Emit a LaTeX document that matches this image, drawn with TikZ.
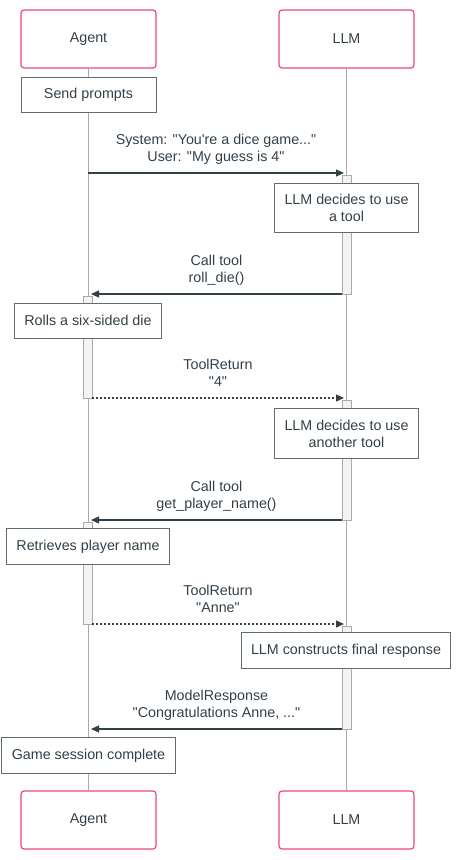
\documentclass[tikz,border=0pt]{standalone}
\usepackage{fontspec}
\newfontfamily\seqfont{Liberation Sans}
\usetikzlibrary{arrows.meta,shapes}
\definecolor{actorpink}{RGB}{236,72,128}
\definecolor{inkgray}{RGB}{51,64,72}
\definecolor{notegray}{RGB}{96,108,116}
\definecolor{lifegray}{RGB}{170,170,170}
\definecolor{actfill}{RGB}{243,243,243}

\begin{document}
\begin{tikzpicture}[
  every node/.style={font=\seqfont\fontsize{14.3bp}{17bp}\selectfont,text=inkgray},
  actor/.style={draw=actorpink,line width=1.2bp,rounded corners=3bp,fill=white,minimum width=135bp,minimum height=58bp},
  note/.style={draw=notegray,line width=1bp,fill=white,minimum width=135bp,inner xsep=10bp,inner ysep=11bp,minimum height=35bp,align=center},
  lifeline/.style={draw=lifegray,line width=1.3bp},
  actbar/.style={draw=lifegray,fill=actfill,line width=1bp,minimum width=9bp,inner sep=0bp},
  msg/.style={-{Triangle[length=8bp,width=7bp]},draw=inkgray,line width=1.2bp},
  reply/.style={msg,dash pattern=on 2bp off 2bp},
  msglabel/.style={above=6bp,align=center,inner sep=0bp}
]
\useasboundingbox (0bp,0bp) rectangle (473bp,-860bp);

\node (agentTop) at (88.5bp,-39bp)[actor] {Agent};
\node (llmTop) at (346.5bp,-39bp)[actor] {LLM};
\node (agentBot) at (88.5bp,-820bp)[actor] {Agent};
\node (llmBot) at (346.5bp,-820bp)[actor] {LLM};
\draw [lifeline] (agentTop) -- (agentBot);
\draw [lifeline] (llmTop) -- (llmBot);

\node (act1) at (346.5bp,-234.5bp)[actbar,minimum height=119bp] {};
\node (act2) at (88bp,-347bp)[actbar,minimum height=102bp] {};
\node (act3) at (346.5bp,-460bp)[actbar,minimum height=120bp] {};
\node (act4) at (88bp,-573bp)[actbar,minimum height=102bp] {};
\node (act5) at (346.5bp,-677.5bp)[actbar,minimum height=103bp] {};

\node (sendNote) at (88.5bp,-95bp)[note] {Send prompts};
\node (toolNote) at (346.5bp,-208bp)[note] {LLM decides to use\\a tool};
\node (rollNote) at (88bp,-320.5bp)[note] {Rolls a six-sided die};
\node (otherNote) at (346.5bp,-433.5bp)[note] {LLM decides to use\\another tool};
\node (nameNote) at (88bp,-546.5bp)[note] {Retrieves player name};
\node (finalNote) at (346bp,-650.5bp)[note] {LLM constructs final response};
\node (doneNote) at (88.5bp,-755.5bp)[note] {Game session complete};

\coordinate (m1a) at (88bp,-173bp);
\coordinate (m1b) at (344bp,-173bp);
\coordinate (m2a) at (342bp,-294bp);
\coordinate (m2b) at (91bp,-294bp);
\coordinate (m3a) at (92bp,-398bp);
\coordinate (m3b) at (344bp,-398bp);
\coordinate (m4a) at (342bp,-520bp);
\coordinate (m4b) at (91bp,-520bp);
\coordinate (m5a) at (92bp,-624bp);
\coordinate (m5b) at (344bp,-624bp);
\coordinate (m6a) at (342bp,-729bp);
\coordinate (m6b) at (91bp,-729bp);

\draw [msg] (m1a) -- node[msglabel] {System: "You're a dice game..."\\User: "My guess is 4"\strut} (m1b);
\draw [msg] (m2a) -- node[msglabel] {Call tool\\roll\_die()\strut} (m2b);
\draw [reply] (m3a) -- node[msglabel] {ToolReturn\\"4"\strut} (m3b);
\draw [msg] (m4a) -- node[msglabel] {Call tool\\get\_player\_name()\strut} (m4b);
\draw [reply] (m5a) -- node[msglabel] {ToolReturn\\"Anne"\strut} (m5b);
\draw [msg] (m6a) -- node[msglabel] {ModelResponse\\"Congratulations Anne, ..."\strut} (m6b);
\end{tikzpicture}
\end{document}
